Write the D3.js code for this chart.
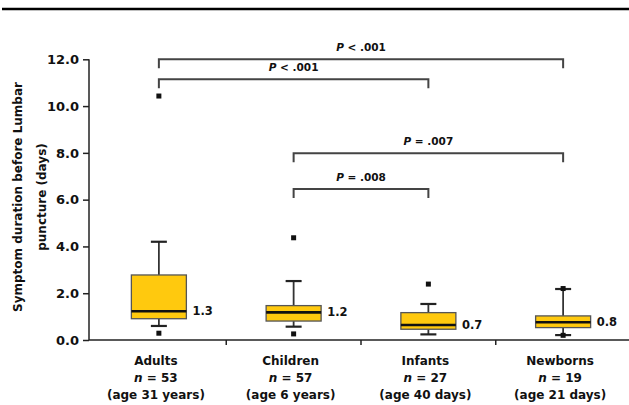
<!DOCTYPE html>
<html><head><meta charset="utf-8">
<script src="https://cdn.jsdelivr.net/npm/d3@7"></script>
<style>body{margin:0;background:#fff}svg{display:block}text{font-family:"DejaVu Sans","Liberation Sans",sans-serif;font-weight:bold;fill:#111}</style>
</head><body>
<script>
const categories = ["Adults", "Children", "Infants", "Newborns"];
const nValues = [53, 57, 27, 19];
const ageLabels = ["(age 31 years)", "(age 6 years)", "(age 40 days)", "(age 21 days)"];
const whiskerLow = [0.6, 0.57, 0.24, 0.21];
const q1 = [0.91, 0.81, 0.46, 0.53];
const median = [1.23, 1.18, 0.64, 0.76];
const q3 = [2.78, 1.47, 1.17, 1.03];
const whiskerHigh = [4.2, 2.52, 1.54, 2.18];
const medianLabels = ["1.3", "1.2", "0.7", "0.8"];
const outliers = [[10.43, 0.29], [4.37, 0.26], [2.39], [2.2, 0.2]];
const comparisons = [
  {from: "Adults", to: "Newborns", y: 12.0, label: "< .001"},
  {from: "Adults", to: "Infants", y: 11.15, label: "< .001"},
  {from: "Children", to: "Newborns", y: 7.98, label: "= .007"},
  {from: "Children", to: "Infants", y: 6.45, label: "= .008"}
];
const yTicks = [0, 2, 4, 6, 8, 10, 12];

const W = 629, H = 405;
const svg = d3.select("body").append("svg").attr("width", W).attr("height", H);

// top rule
svg.append("line").attr("x1", 2).attr("x2", 629).attr("y1", 9).attr("y2", 9)
  .attr("stroke", "#000").attr("stroke-width", 2.5);

const y = d3.scaleLinear().domain([0, 12]).range([340, 59.3]);
const x = d3.scaleBand().domain(categories).range([91.5, 630.5]).padding(0);
const cx = c => x(c) + x.bandwidth() / 2;

// y axis
const yAxis = svg.append("g").attr("transform", "translate(89,0)")
  .call(d3.axisLeft(y).tickValues(yTicks).tickFormat(d3.format(".1f")).tickSize(6).tickPadding(4));
yAxis.select(".domain").attr("stroke", "#222").attr("stroke-width", 1.5).attr("d", "M0,59.3V340");
yAxis.selectAll(".tick line").attr("stroke", "#222").attr("stroke-width", 1.5);
yAxis.selectAll(".tick text").style("font-size", "13px").attr("fill", "#111");

// x axis line and ticks
svg.append("line").attr("x1", 89).attr("x2", 629).attr("y1", y(0)).attr("y2", y(0))
  .attr("stroke", "#222").attr("stroke-width", 1.5);
svg.selectAll(".xtick").data(categories.slice(1)).join("line")
  .attr("x1", d => x(d)).attr("x2", d => x(d))
  .attr("y1", y(0)).attr("y2", y(0) + 5).attr("stroke", "#222").attr("stroke-width", 1.5);

// category labels
categories.forEach((c, i) => {
  const xc = cx(c) - 3;
  const t = svg.append("text").attr("x", xc).attr("text-anchor", "middle").style("font-size", "12px");
  t.append("tspan").attr("x", xc).attr("y", 365).text(c);
  const t2 = t.append("tspan").attr("x", xc).attr("y", 382);
  t2.append("tspan").style("font-style", "italic").text("n");
  t2.append("tspan").text(" = " + nValues[i]);
  t.append("tspan").attr("x", xc).attr("y", 399).text(ageLabels[i]);
});

// y axis title
const yt = svg.append("text").attr("transform", "translate(0,197) rotate(-90)")
  .attr("text-anchor", "middle").style("font-size", "12px");
yt.append("tspan").attr("x", 0).attr("y", 22).text("Symptom duration before Lumbar");
yt.append("tspan").attr("x", 0).attr("y", 46).text("puncture (days)");

// boxes
const boxW = 55, capW = 16;
const g = svg.append("g");
categories.forEach((c, i) => {
  const xc = cx(c);
  g.append("line").attr("x1", xc).attr("x2", xc).attr("y1", y(whiskerHigh[i])).attr("y2", y(q3[i]))
    .attr("stroke", "#333").attr("stroke-width", 1.8);
  g.append("line").attr("x1", xc).attr("x2", xc).attr("y1", y(q1[i])).attr("y2", y(whiskerLow[i]))
    .attr("stroke", "#333").attr("stroke-width", 1.8);
  [whiskerHigh[i], whiskerLow[i]].forEach(v => {
    g.append("line").attr("x1", xc - capW / 2).attr("x2", xc + capW / 2).attr("y1", y(v)).attr("y2", y(v))
      .attr("stroke", "#222").attr("stroke-width", 2.2);
  });
  g.append("rect").attr("x", xc - boxW / 2).attr("width", boxW)
    .attr("y", y(q3[i])).attr("height", y(q1[i]) - y(q3[i]))
    .attr("fill", "#FFC90E").attr("stroke", "#555").attr("stroke-width", 1.3);
  g.append("line").attr("x1", xc - boxW / 2).attr("x2", xc + boxW / 2).attr("y1", y(median[i])).attr("y2", y(median[i]))
    .attr("stroke", "#111").attr("stroke-width", 2.6);
  outliers[i].forEach(v => {
    g.append("rect").attr("x", xc - 2.5).attr("y", y(v) - 2.5).attr("width", 5).attr("height", 5).attr("fill", "#111");
  });
  svg.append("text").attr("x", xc + boxW / 2 + 6).attr("y", y(median[i])).attr("dy", "0.35em")
    .style("font-size", "11.5px").text(medianLabels[i]);
});

// comparison brackets
comparisons.forEach(cmp => {
  const x1 = cx(cmp.from), x2 = cx(cmp.to), yy = y(cmp.y);
  svg.append("path").attr("d", `M${x1},${yy + 9}V${yy}H${x2}V${yy + 9}`)
    .attr("fill", "none").attr("stroke", "#444").attr("stroke-width", 2);
  const t = svg.append("text").attr("x", (x1 + x2) / 2).attr("y", yy - 8.5)
    .attr("text-anchor", "middle").style("font-size", "10.5px");
  t.append("tspan").style("font-style", "italic").text("P");
  t.append("tspan").text(" " + cmp.label);
});
</script>
</body></html>
